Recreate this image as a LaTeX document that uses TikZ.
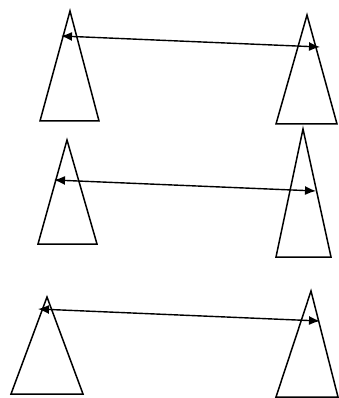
\documentclass[tikz,border=0pt]{standalone}
\usetikzlibrary{arrows.meta}
\begin{document}
\begin{tikzpicture}[x=1pt,y=-1pt,
  tri/.style={draw=black,line width=1.5pt,line join=miter},
  link/.style={draw=black,line width=1.4pt,{Latex[length=11pt,width=9pt]}-{Latex[length=11pt,width=9pt]}}]
\useasboundingbox (0,0) rectangle (339,398);
% triangles
\draw[tri] (70,11) -- (99,121) -- (40,121) -- cycle;
\draw[tri] (307,15) -- (337,124) -- (276,124) -- cycle;
\draw[tri] (67,140) -- (97,244) -- (38,244) -- cycle;
\draw[tri] (303,129) -- (331,257) -- (276,257) -- cycle;
\draw[tri] (47,297) -- (83,394) -- (11,394) -- cycle;
\draw[tri] (311,291) -- (338,397) -- (276,397) -- cycle;
% arrow end points
\coordinate (a1) at (61,36);
\coordinate (b1) at (320,47);
\coordinate (a2) at (54,180);
\coordinate (b2) at (316,191);
\coordinate (a3) at (38,309);
\coordinate (b3) at (320,321);
\draw[link] (a1) -- (b1);
\draw[link] (a2) -- (b2);
\draw[link] (a3) -- (b3);
\end{tikzpicture}
\end{document}
